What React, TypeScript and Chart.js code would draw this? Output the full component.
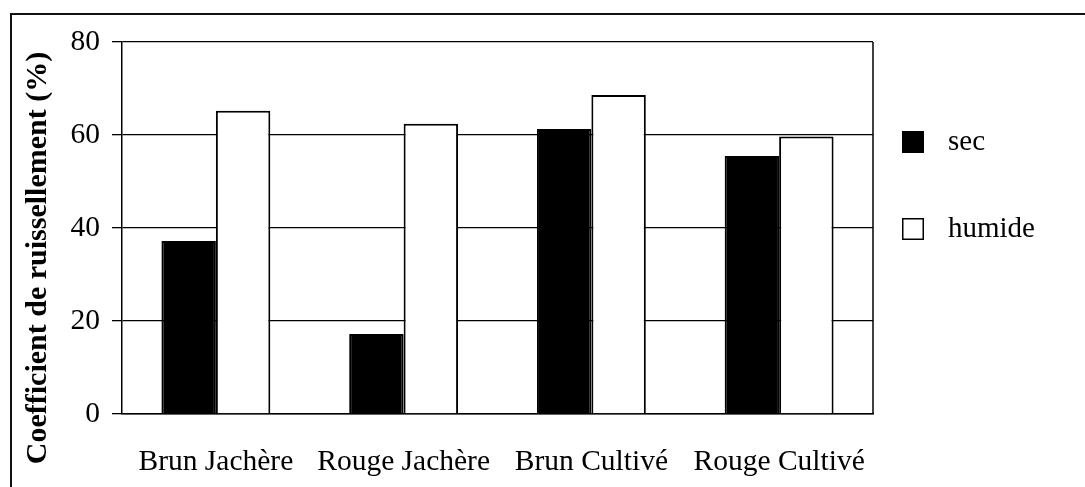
import React, { useEffect, useRef } from "react";
import { Chart, registerables } from "chart.js";

Chart.register(...registerables);

const categories = ["Brun Jachère", "Rouge Jachère", "Brun Cultivé", "Rouge Cultivé"];
const secValues = [37.2, 17.2, 61.3, 55.5];
const humideValues = [65.2, 62.4, 68.6, 59.7];
const yTicks = [0, 20, 40, 60, 80];
const yTitle = "Coefficient de ruissellement (%)";

const FONT = "'Liberation Serif', 'Times New Roman', serif";

const framePlugin = {
  id: "framePlugin",
  beforeDraw(chart: any) {
    const ctx = chart.ctx;
    ctx.save();
    ctx.fillStyle = "#ffffff";
    ctx.fillRect(0, 0, chart.width, chart.height);
    ctx.strokeStyle = "#111";
    ctx.lineWidth = 2;
    ctx.beginPath();
    ctx.moveTo(11, chart.height);
    ctx.lineTo(11, 14);
    ctx.lineTo(chart.width, 14);
    ctx.stroke();
    ctx.restore();
  },
  afterDraw(chart: any) {
    const ctx = chart.ctx;
    const a = chart.chartArea;
    ctx.save();
    // plot area right border
    ctx.strokeStyle = "#000";
    ctx.lineWidth = 1.5;
    ctx.beginPath();
    ctx.moveTo(a.right, a.top);
    ctx.lineTo(a.right, a.bottom);
    ctx.stroke();
    // y axis title
    ctx.translate(38, 258);
    ctx.rotate(-Math.PI / 2);
    ctx.font = `bold 30px ${FONT}`;
    ctx.fillStyle = "#000";
    ctx.textAlign = "center";
    ctx.textBaseline = "middle";
    ctx.fillText(yTitle, 0, 0);
    ctx.restore();
    // legend
    ctx.save();
    const items = chart.data.datasets;
    const boxX = a.right + 29;
    const centers = [142, 229];
    items.forEach((ds: any, i: number) => {
      const cy = centers[i];
      ctx.fillStyle = ds.backgroundColor;
      ctx.fillRect(boxX, cy - 11, 22, 22);
      ctx.strokeStyle = "#000";
      ctx.lineWidth = 1.5;
      ctx.strokeRect(boxX + 0.75, cy - 10.25, 20.5, 20.5);
      ctx.fillStyle = "#000";
      ctx.font = `29px ${FONT}`;
      ctx.textAlign = "left";
      ctx.textBaseline = "middle";
      ctx.fillText(ds.label, boxX + 46, cy);
    });
    ctx.restore();
  },
};

export default function App() {
  const canvasRef = useRef<HTMLCanvasElement | null>(null);

  useEffect(() => {
    if (!canvasRef.current) return;
    const chart = new Chart(canvasRef.current, {
      type: "bar",
      data: {
        labels: categories,
        datasets: [
          {
            label: "sec",
            data: secValues,
            backgroundColor: "#000000",
            borderColor: "#000000",
            borderWidth: 2,
            barPercentage: 1,
            categoryPercentage: 0.58,
          },
          {
            label: "humide",
            data: humideValues,
            backgroundColor: "#ffffff",
            borderColor: "#000000",
            borderWidth: 2,
            barPercentage: 1,
            categoryPercentage: 0.58,
          },
        ],
      },
      options: {
        animation: false,
        responsive: false,
        maintainAspectRatio: false,
        layout: { padding: { left: 0, right: 212, top: 42, bottom: 0 } },
        plugins: {
          legend: { display: false },
          tooltip: { enabled: false },
          title: { display: false },
        },
        scales: {
          x: {
            grid: { display: false, drawTicks: false },
            border: { display: true, color: "#000", width: 1.5 },
            ticks: {
              color: "#000",
              font: { family: FONT, size: 29.5 },
              padding: 31,
              maxRotation: 0,
              autoSkip: false,
            },
            afterFit: (scale: any) => {
              scale.height = 73;
            },
          },
          y: {
            min: 0,
            max: 80,
            afterBuildTicks: (scale: any) => {
              scale.ticks = yTicks.map((v) => ({ value: v }));
            },
            grid: { color: "#000", lineWidth: 1.3, tickLength: 10, drawTicks: true },
            border: { display: true, color: "#000", width: 1.5 },
            ticks: {
              color: "#000",
              font: { family: FONT, size: 29.5 },
              padding: 12,
            },
            afterFit: (scale: any) => {
              scale.width = 122;
            },
          },
        },
      },
      plugins: [framePlugin],
    });
    return () => chart.destroy();
  }, []);

  return (
    <div style={{ position: "fixed", left: 0, top: 0, width: 1085, height: 487, background: "#fff" }}>
      <canvas ref={canvasRef} width={1085} height={487} style={{ width: 1085, height: 487, display: "block" }} />
    </div>
  );
}
